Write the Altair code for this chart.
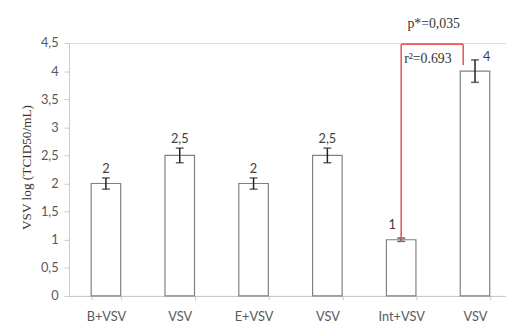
import altair as alt
import pandas as pd

# ---- data ----
groups = ["B+VSV", "VSV", "E+VSV", "VSV", "Int+VSV", "VSV"]
values = [2.0, 2.5, 2.0, 2.5, 1.0, 4.0]
errors = [0.10, 0.13, 0.10, 0.13, 0.03, 0.20]
value_labels = ["2", "2,5", "2", "2,5", "1", "4"]
y_ticks = [0.0, 0.5, 1.0, 1.5, 2.0, 2.5, 3.0, 3.5, 4.0, 4.5]

# significance bracket (Int+VSV vs VSV)
bracket_top = [4.48]
bracket_left_bottom = [0.96]
bracket_right_bottom = [4.11]
p_text = ["p*=0,035"]
p_y = [4.83]
r2_text = ["r\u00b2=0.693"]
r2_y = [4.22]

keys = [f"{i}|{g}" for i, g in enumerate(groups)]
df = pd.DataFrame({
    "key": keys,
    "value": values,
    "lo": [v - e for v, e in zip(values, errors)],
    "hi": [v + e for v, e in zip(values, errors)],
    "label": value_labels,
    "idx": list(range(len(groups))),
})

SANS = "Lato"
SERIF = "Liberation Serif"
RED = "#e55a5e"

xscale = alt.Scale(domain=keys, paddingInner=0.6, paddingOuter=0.3)
yscale = alt.Scale(domain=[0, 4.5], nice=False, zero=True)

x_axis = alt.Axis(labelExpr="split(datum.value,'|')[1]", labelAngle=0,
                  labelFont=SANS, labelFontSize=13, labelColor="#595959",
                  labelPadding=11, tickBand="extent", tickSize=4,
                  tickColor="#c8c8c8", domainColor="#c8c8c8", grid=False)
y_axis = alt.Axis(values=y_ticks, labelOverlap=False, labelFlush=False,
                  labelExpr="replace(format(datum.value,'~g'),'.',',')",
                  labelFont=SANS, labelFontSize=13, labelColor="#595959",
                  labelPadding=6, tickSize=5, tickColor="#c8c8c8",
                  domainColor="#c8c8c8", grid=False,
                  titleFont=SERIF, titleFontSize=13.5, titleFontWeight="normal",
                  titleColor="#333333", titleX=-36, titleY=126)
YT = "VSV log (TCID50/mL)"


def X(field):
    return alt.X(field, type="nominal", scale=xscale, sort=keys, title=None, axis=x_axis)


def Y(field):
    return alt.Y(field, type="quantitative", scale=yscale, title=YT, axis=y_axis)


base = alt.Chart(df)

bars = base.mark_bar(fill="white", stroke="#808080", strokeWidth=1.2).encode(
    x=X("key"), y=Y("value"))

err = base.mark_rule(color="#222222", strokeWidth=1.5).encode(
    x=X("key"), y=Y("lo"), y2="hi:Q")
cap_hi = base.mark_tick(color="#222222", size=8, thickness=1.5, orient="horizontal").encode(
    x=X("key"), y=Y("hi"))
cap_lo = base.mark_tick(color="#222222", size=8, thickness=1.5, orient="horizontal").encode(
    x=X("key"), y=Y("lo"))

lbl_main = base.transform_filter("datum.idx < 4").mark_text(
    font=SANS, fontSize=13, color="#404040", baseline="bottom", dy=-2).encode(
    x=X("key"), y=Y("hi"), text="label:N")
lbl_one = base.transform_filter("datum.idx == 4").mark_text(
    font=SANS, fontSize=13, color="#404040", baseline="bottom", dx=-9, dy=-6).encode(
    x=X("key"), y=Y("hi"), text="label:N")
lbl_four = base.transform_filter("datum.idx == 5").mark_text(
    font=SANS, fontSize=13, color="#404040", baseline="middle", dx=12, dy=-3).encode(
    x=X("key"), y=Y("hi"), text="label:N")

bdf = pd.DataFrame({
    "left": [keys[4]], "right": [keys[5]],
    "top": bracket_top, "lb": bracket_left_bottom, "rb": bracket_right_bottom,
    "p": p_text, "py": p_y, "r2": r2_text, "r2y": r2_y,
})
bbase = alt.Chart(bdf)
br_left = bbase.mark_rule(color=RED, strokeWidth=1.6).encode(
    x=X("left"), y=Y("lb"), y2="top:Q")
br_top = bbase.mark_rule(color=RED, strokeWidth=1.6, x2Offset=-12).encode(
    x=X("left"), x2="right:N", y=Y("top"))
br_right = bbase.mark_rule(color=RED, strokeWidth=1.6, xOffset=-12).encode(
    x=X("right"), y=Y("rb"), y2="top:Q")
p_lbl = bbase.mark_text(font=SERIF, fontSize=14, color="#333333", align="center",
                        baseline="middle", dx=33).encode(
    x=X("left"), y=Y("py"), text="p:N")
r2_lbl = bbase.mark_text(font=SERIF, fontSize=14, color="#333333", align="left",
                         baseline="middle", dx=3).encode(
    x=X("left"), y=Y("r2y"), text="r2:N")

chart = alt.layer(
    bars, err, cap_hi, cap_lo, lbl_main, lbl_one, lbl_four,
    br_left, br_top, br_right, p_lbl, r2_lbl
).properties(
    width=450, height=257,
    autosize=alt.AutoSizeParams(type="none"),
    padding={"left": 62, "top": 33, "right": -6, "bottom": 30},
).configure_view(stroke=None).configure(background="white")

chart.save("out.html", embed_options={"renderer": "svg", "actions": False})
